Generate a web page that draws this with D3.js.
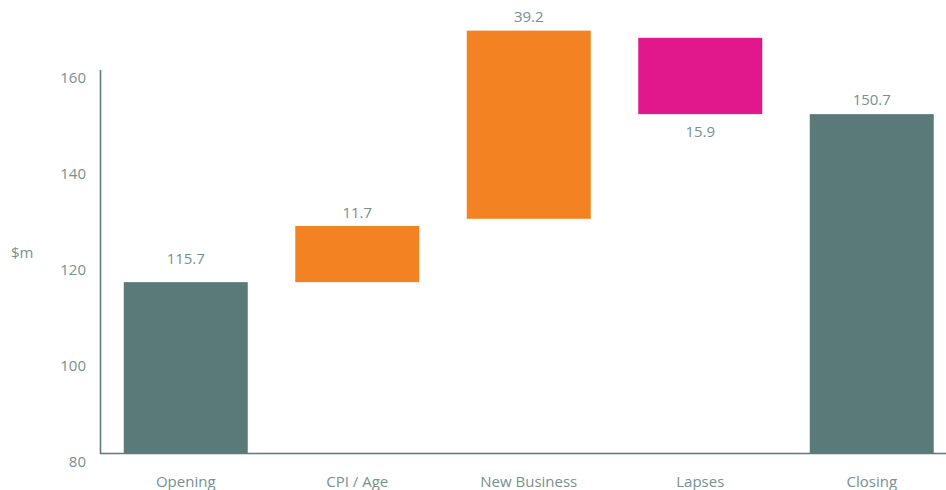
<!DOCTYPE html>
<html>
<head>
<meta charset="utf-8">
<script src="https://cdn.jsdelivr.net/npm/d3@7"></script>
<style>
  html, body { margin: 0; padding: 0; background: #ffffff; }
  svg { display: block; font-family: "Open Sans", "Noto Sans", sans-serif; }
</style>
</head>
<body>
<svg id="chart" width="946" height="490"></svg>
<script>
// Waterfall: movement in $m from opening to closing balance
const categories = ["Opening", "CPI / Age", "New Business", "Lapses", "Closing"];
const amounts    = [115.7, 11.7, 39.2, 15.9, 150.7];
// where each floating bar starts (totals start at the axis floor)
const bases      = [null, 115.7, 128.9, 150.7, null];
const kinds      = ["total", "increase", "increase", "decrease", "total"];
const yTicks     = [80, 100, 120, 140, 160];
const yUnit      = "$m";

const colors = { total: "#5a7979", increase: "#f38322", decrease: "#e1188b" };
const textColor = "#76918f";
const axisColor = "#5d7b7a";

const svg = d3.select("#chart");
const yFloor = 80;

const x = d3.scaleBand()
  .domain(categories)
  .range([100, 957.5])
  .paddingInner(0.277)
  .paddingOuter(0.1385);

const y = d3.scaleLinear()
  .domain([80, 160])
  .range([453.5, 69.5]);

const rows = categories.map((c, i) => {
  const lo = kinds[i] === "total" ? yFloor : bases[i];
  const hi = kinds[i] === "total" ? amounts[i] : bases[i] + amounts[i];
  return { cat: c, value: amounts[i], kind: kinds[i], lo, hi };
});

// bars
svg.append("g").selectAll("rect")
  .data(rows)
  .join("rect")
  .attr("x", d => x(d.cat))
  .attr("width", x.bandwidth())
  .attr("y", d => y(d.hi))
  .attr("height", d => y(d.lo) - y(d.hi))
  .attr("fill", d => colors[d.kind]);

// y axis
const yAxis = svg.append("g")
  .attr("transform", "translate(100,0)")
  .call(d3.axisLeft(y).tickValues(yTicks).tickSize(0).tickPadding(14));
yAxis.select(".domain").attr("stroke", axisColor).attr("stroke-width", 1.6);
yAxis.selectAll("text")
  .attr("fill", textColor)
  .attr("font-size", 15)
  .attr("font-family", "\"Open Sans\", sans-serif")
  .attr("dy", 13)
  .attr("dominant-baseline", "auto");

// x axis baseline + category labels
const xAxis = svg.append("g")
  .attr("transform", `translate(0,${y(yFloor)})`)
  .call(d3.axisBottom(x).tickSize(0).tickPadding(0));
xAxis.select(".domain")
  .attr("d", `M100,0H946`)
  .attr("stroke", axisColor)
  .attr("stroke-width", 1.6);
xAxis.selectAll("text")
  .attr("fill", textColor)
  .attr("font-size", 15)
  .attr("font-family", "\"Open Sans\", sans-serif")
  .attr("y", 33)
  .attr("dy", 0);

// unit label
svg.append("text")
  .attr("x", 11)
  .attr("y", 258)
  .attr("fill", textColor)
  .attr("font-size", 15)
  .text(yUnit);

// value labels (above rising bars, below falling ones)
const labelGap = [18, 7.5, 8.5, 22.5, 9.5];
svg.append("g").selectAll("text")
  .data(rows)
  .join("text")
  .attr("x", d => x(d.cat) + x.bandwidth() / 2)
  .attr("y", (d, i) => d.kind === "decrease" ? y(d.lo) + labelGap[i] : y(d.hi) - labelGap[i])
  .attr("text-anchor", "middle")
  .attr("fill", textColor)
  .attr("font-size", 15)
  .text(d => d.value.toFixed(1));
</script>
</body>
</html>
